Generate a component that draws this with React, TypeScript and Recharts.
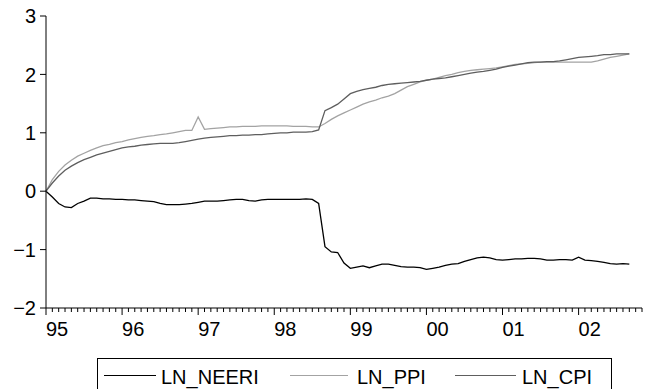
import React from "react";
import { LineChart, Line, XAxis, YAxis } from "recharts";

// monthly obs 1995M01 .. 2002M09
const START_YEAR = 1995;
const yearLabels = ["95", "96", "97", "98", "99", "00", "01", "02"];

const lnNeeri = [
  0, -0.1, -0.21, -0.27, -0.28, -0.21, -0.17, -0.12, -0.12, -0.13, -0.13, -0.14,
  -0.14, -0.15, -0.15, -0.16, -0.17, -0.18, -0.21, -0.23, -0.23, -0.23, -0.22, -0.21,
  -0.19, -0.17, -0.17, -0.17, -0.16, -0.15, -0.14, -0.14, -0.16, -0.17, -0.15, -0.14,
  -0.14, -0.14, -0.14, -0.14, -0.14, -0.13, -0.14, -0.21, -0.95, -1.04, -1.05, -1.23,
  -1.32, -1.3, -1.28, -1.31, -1.28, -1.25, -1.25, -1.27, -1.29, -1.3, -1.3, -1.31,
  -1.34, -1.32, -1.3, -1.27, -1.25, -1.24, -1.2, -1.17, -1.14, -1.13, -1.14, -1.17,
  -1.18, -1.17, -1.16, -1.16, -1.15, -1.15, -1.16, -1.18, -1.18, -1.17, -1.17, -1.18,
  -1.13, -1.18, -1.19, -1.2, -1.22, -1.24, -1.25, -1.24, -1.25,
];

const lnPpi = [
  0, 0.2, 0.34, 0.45, 0.53, 0.6, 0.65, 0.7, 0.74, 0.78, 0.8, 0.83,
  0.85, 0.88, 0.9, 0.92, 0.94, 0.95, 0.97, 0.98, 1.0, 1.02, 1.04, 1.04,
  1.27, 1.06, 1.07, 1.08, 1.09, 1.1, 1.1, 1.11, 1.11, 1.11, 1.12, 1.12,
  1.12, 1.12, 1.12, 1.11, 1.11, 1.11, 1.1, 1.1, 1.16, 1.23, 1.29, 1.34,
  1.39, 1.44, 1.49, 1.53, 1.56, 1.6, 1.63, 1.67, 1.73, 1.79, 1.83, 1.87,
  1.9, 1.92, 1.95, 1.98, 2.0, 2.03, 2.05, 2.07, 2.08, 2.09, 2.1, 2.11,
  2.13, 2.15, 2.17, 2.18, 2.19, 2.2, 2.21, 2.21, 2.21, 2.21, 2.21, 2.21,
  2.21, 2.21, 2.21, 2.23, 2.26, 2.29, 2.31, 2.33, 2.35,
];

const lnCpi = [
  0, 0.14, 0.26, 0.36, 0.43, 0.49, 0.54, 0.58, 0.62, 0.65, 0.68, 0.71,
  0.74, 0.76, 0.77, 0.79, 0.8, 0.81, 0.82, 0.82, 0.82, 0.83, 0.85, 0.87,
  0.89, 0.91, 0.92, 0.93, 0.94, 0.95, 0.95, 0.96, 0.96, 0.97, 0.97, 0.98,
  0.99, 1.0, 1.0, 1.01, 1.01, 1.01, 1.02, 1.05, 1.38, 1.43, 1.49, 1.58,
  1.67, 1.71, 1.74, 1.76, 1.78, 1.81, 1.83, 1.84, 1.85, 1.86, 1.87, 1.88,
  1.9, 1.92, 1.93, 1.94, 1.96, 1.98, 2.0, 2.02, 2.04, 2.05, 2.07, 2.09,
  2.12, 2.14, 2.16, 2.18, 2.2, 2.21, 2.21, 2.22, 2.22, 2.23, 2.25, 2.27,
  2.29, 2.3, 2.31, 2.32, 2.34, 2.34, 2.35, 2.35, 2.35,
];

const data = lnNeeri.map((v, i) => ({
  t: i,
  month: `${START_YEAR + Math.floor(i / 12)}M${String((i % 12) + 1).padStart(2, "0")}`,
  LN_NEERI: v,
  LN_PPI: lnPpi[i],
  LN_CPI: lnCpi[i],
}));

const X_MAX = 94;
const monthTicks = Array.from({ length: X_MAX + 1 }, (_, i) => i);
const yTicks = [-2, -1, 0, 1, 2, 3];

const FONT = '"Liberation Sans", Arial, Helvetica, sans-serif';

const series = [
  { key: "LN_NEERI", color: "#000000" },
  { key: "LN_PPI", color: "#a3a3a3" },
  { key: "LN_CPI", color: "#5e5e5e" },
];

function MonthTick(props: any) {
  const { x, y, payload } = props;
  const i = payload.value as number;
  const major = i % 12 === 0;
  const label = yearLabels[i / 12];
  return (
    <g>
      <line x1={x} x2={x} y1={y} y2={y + (major ? 7 : 4)} stroke="#000" strokeWidth={1} />
      {major && label && (
        <text x={x} y={y + 28} textAnchor="start" fontSize={20} fontFamily={FONT} fill="#000">
          {label}
        </text>
      )}
    </g>
  );
}

const fmtY = (v: number) => (v < 0 ? `\u2212${Math.abs(v)}` : `${v}`);

function LegendBox() {
  const items = [
    { ...series[0], lx: 104, lw: 52, tx: 161 },
    { ...series[1], lx: 290, lw: 58, tx: 357 },
    { ...series[2], lx: 455, lw: 61, tx: 522 },
  ];
  return (
    <div
      style={{
        position: "absolute",
        left: 97,
        top: 358,
        width: 515,
        height: 34,
        border: "1px solid #000",
        boxSizing: "border-box",
      }}
    >
      {items.map((it) => (
        <React.Fragment key={it.key}>
          <div
            style={{
              position: "absolute",
              left: it.lx - 98,
              top: 16,
              width: it.lw,
              height: 0,
              borderTop: `1.5px solid ${it.color}`,
            }}
          />
          <span
            style={{
              position: "absolute",
              left: it.tx - 98,
              top: 8,
              fontFamily: FONT,
              fontSize: 20,
              lineHeight: "20px",
              color: "#000",
              whiteSpace: "nowrap",
            }}
          >
            {it.key}
          </span>
        </React.Fragment>
      ))}
    </div>
  );
}

export default function App() {
  return (
    <div style={{ position: "relative", width: 645, height: 389, overflow: "hidden", background: "#fff" }}>
      <style>{`body{margin:0}`}</style>
      <LineChart
        width={645}
        height={389}
        data={data}
        margin={{ top: 16, right: 3, bottom: 0, left: 0 }}
      >
        <XAxis
          dataKey="t"
          type="number"
          domain={[0, X_MAX]}
          ticks={monthTicks}
          interval={0}
          tickSize={0}
          tickMargin={0}
          tickLine={false}
          tick={<MonthTick />}
          axisLine={{ stroke: "#000", strokeWidth: 1 }}
          height={81}
        />
        <YAxis
          type="number"
          domain={[-2, 3]}
          ticks={yTicks}
          width={46}
          tickSize={6}
          tickMargin={4}
          tickFormatter={fmtY}
          tick={{ fill: "#000", fontSize: 20, fontFamily: FONT }}
          tickLine={{ stroke: "#000" }}
          axisLine={{ stroke: "#000", strokeWidth: 1 }}
        />
        {series.map((s) => (
          <Line
            key={s.key}
            dataKey={s.key}
            type="linear"
            stroke={s.color}
            strokeWidth={1.3}
            dot={false}
            activeDot={false}
            isAnimationActive={false}
          />
        ))}
      </LineChart>
      <LegendBox />
    </div>
  );
}
